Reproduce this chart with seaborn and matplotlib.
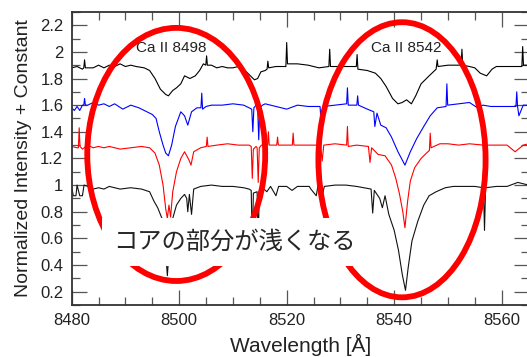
import matplotlib
matplotlib.use("Agg")
import matplotlib.pyplot as plt
from matplotlib.patches import Ellipse
from matplotlib.ticker import MultipleLocator
import seaborn as sns

# spectra: (wavelength [A], normalized flux + offset)
top_spec = [
    (8480.0, 1.88), (8481.0, 1.89), (8482.0, 1.87), (8482.25, 1.88), (8482.4, 1.94), (8482.55, 1.88),
    (8484.0, 1.88), (8485.0, 1.90), (8486.0, 1.88), (8487.0, 1.90), (8488.0, 1.89), (8489.0, 1.91),
    (8490.0, 1.89), (8491.0, 1.90), (8492.0, 1.89), (8493.5, 1.88), (8494.5, 1.86), (8495.5, 1.80),
    (8496.5, 1.72), (8497.5, 1.68), (8498.0, 1.67), (8498.8, 1.71), (8499.5, 1.73), (8500.3, 1.76),
    (8501.0, 1.82), (8502.0, 1.80), (8503.0, 1.82), (8503.8, 1.86), (8504.5, 1.91), (8504.95, 1.90),
    (8505.1, 1.97), (8505.25, 1.90), (8506.0, 1.90), (8507.0, 1.88), (8508.0, 1.89), (8509.0, 1.88),
    (8510.0, 1.88), (8511.0, 1.89), (8512.0, 1.87), (8513.0, 1.83), (8514.0, 1.79), (8514.6, 1.80),
    (8515.2, 1.85), (8516.0, 1.86), (8516.35, 1.87), (8516.5, 1.93), (8516.65, 1.88), (8518.0, 1.89),
    (8519.85, 1.89), (8520.0, 2.07), (8520.15, 1.91), (8522.0, 1.91), (8524.0, 1.90), (8526.0, 1.88),
    (8527.85, 1.89), (8528.0, 2.02), (8528.15, 1.89), (8530.0, 1.89), (8532.95, 1.89), (8533.1, 1.98),
    (8533.25, 1.87), (8535.0, 1.86), (8536.5, 1.84), (8537.5, 1.80), (8538.5, 1.74), (8539.7, 1.65),
    (8540.7, 1.61), (8541.5, 1.62), (8542.3, 1.64), (8543.2, 1.61), (8544.0, 1.67), (8545.0, 1.76),
    (8546.5, 1.82), (8547.8, 1.87), (8548.0, 1.94), (8548.15, 1.89), (8550.0, 1.90), (8552.45, 1.90),
    (8552.6, 2.02), (8552.75, 1.90), (8554.0, 1.89), (8555.0, 1.88), (8556.0, 1.84), (8557.2, 1.82),
    (8558.2, 1.87), (8559.0, 1.89), (8561.0, 1.89), (8563.75, 1.89), (8563.9, 2.04), (8564.05, 1.90),
    (8565.0, 1.90),
]

blue_spec = [
    (8480.0, 1.58), (8480.5, 1.56), (8481.0, 1.59), (8481.5, 1.56), (8482.0, 1.60), (8482.25, 1.60),
    (8482.4, 1.65), (8482.55, 1.60), (8483.0, 1.60), (8484.0, 1.62), (8485.0, 1.60), (8486.0, 1.61),
    (8487.0, 1.59), (8488.0, 1.61), (8489.5, 1.57), (8491.0, 1.60), (8492.5, 1.58), (8494.0, 1.55),
    (8495.0, 1.53), (8495.7, 1.50), (8496.3, 1.40), (8497.0, 1.30), (8497.5, 1.24), (8498.0, 1.22),
    (8498.6, 1.30), (8499.3, 1.44), (8500.3, 1.55), (8501.0, 1.52), (8501.6, 1.45), (8502.3, 1.55),
    (8503.3, 1.58), (8504.05, 1.58), (8504.2, 1.69), (8504.35, 1.57), (8505.0, 1.59), (8506.0, 1.60),
    (8508.0, 1.60), (8510.0, 1.61), (8512.0, 1.60), (8513.0, 1.58), (8513.5, 1.57), (8513.7, 1.40),
    (8513.9, 1.58), (8514.3, 1.60), (8514.6, 1.58), (8514.8, 1.34), (8515.0, 1.58), (8515.5, 1.60),
    (8516.0, 1.61), (8518.0, 1.59), (8520.0, 1.57), (8522.0, 1.60), (8524.0, 1.59), (8526.2, 1.59),
    (8526.5, 1.43), (8526.8, 1.59), (8529.0, 1.60), (8531.15, 1.61), (8531.3, 1.73), (8531.45, 1.60),
    (8533.05, 1.60), (8533.2, 1.67), (8533.35, 1.60), (8535.0, 1.57), (8536.2, 1.55), (8536.4, 1.44),
    (8536.8, 1.54), (8537.5, 1.45), (8538.5, 1.43), (8539.5, 1.36), (8540.7, 1.25), (8542.0, 1.15),
    (8543.0, 1.25), (8544.2, 1.35), (8545.5, 1.44), (8546.7, 1.52), (8548.0, 1.58), (8549.65, 1.59),
    (8549.8, 1.76), (8549.95, 1.60), (8552.0, 1.61), (8554.0, 1.62), (8555.5, 1.58), (8556.5, 1.60),
    (8558.0, 1.59), (8560.0, 1.59), (8562.65, 1.59), (8562.8, 1.70), (8562.95, 1.59), (8563.2, 1.52),
    (8564.0, 1.60), (8565.0, 1.60),
]

red_spec = [
    (8480.0, 1.29), (8481.0, 1.28), (8481.25, 1.28), (8481.4, 1.43), (8481.55, 1.29), (8482.0, 1.27),
    (8483.0, 1.30), (8484.0, 1.28), (8485.0, 1.29), (8486.0, 1.28), (8487.0, 1.29), (8489.0, 1.27),
    (8491.0, 1.28), (8493.0, 1.29), (8494.5, 1.28), (8495.5, 1.24), (8496.3, 1.15), (8497.0, 1.00),
    (8497.5, 0.82), (8497.8, 0.75), (8498.1, 0.85), (8498.4, 0.76), (8498.8, 0.95), (8499.5, 1.10),
    (8500.3, 1.20), (8501.0, 1.25), (8501.8, 1.19), (8502.2, 1.15), (8502.7, 1.25), (8504.0, 1.28),
    (8505.05, 1.29), (8505.2, 1.36), (8505.35, 1.29), (8507.0, 1.30), (8509.0, 1.31), (8511.0, 1.30),
    (8513.0, 1.30), (8513.4, 1.29), (8513.6, 1.05), (8513.8, 1.27), (8514.3, 1.29), (8514.5, 1.28),
    (8514.7, 1.02), (8514.9, 1.28), (8515.3, 1.30), (8516.0, 1.30), (8516.45, 1.30), (8516.6, 1.40),
    (8516.75, 1.30), (8518.15, 1.30), (8518.3, 1.36), (8518.45, 1.30), (8521.05, 1.30), (8521.2, 1.39),
    (8521.35, 1.30), (8523.0, 1.30), (8525.0, 1.30), (8526.3, 1.30), (8526.6, 1.18), (8526.9, 1.30),
    (8529.0, 1.31), (8531.15, 1.30), (8531.3, 1.44), (8531.45, 1.29), (8533.0, 1.30), (8535.2, 1.29),
    (8535.5, 1.17), (8535.8, 1.28), (8537.0, 1.23), (8538.3, 1.22), (8539.5, 1.15), (8540.3, 1.05),
    (8541.0, 0.93), (8541.6, 0.80), (8542.0, 0.68), (8542.5, 0.88), (8543.0, 1.03), (8543.8, 1.13),
    (8545.0, 1.20), (8546.0, 1.24), (8546.55, 1.26), (8546.7, 1.39), (8546.85, 1.28), (8548.5, 1.31),
    (8550.0, 1.31), (8552.0, 1.30), (8554.0, 1.31), (8556.6, 1.30), (8556.8, 1.00), (8557.0, 1.30),
    (8559.0, 1.30), (8561.0, 1.30), (8562.5, 1.25), (8564.0, 1.30), (8565.0, 1.31),
]

low_spec = [
    (8480.0, 0.99), (8480.3, 0.92), (8480.8, 0.92), (8481.0, 1.00), (8481.5, 0.92), (8482.0, 0.92),
    (8482.3, 1.00), (8483.0, 0.99), (8484.0, 0.97), (8485.0, 0.98), (8486.0, 0.97), (8487.0, 0.99),
    (8489.0, 0.97), (8491.0, 0.98), (8493.0, 0.97), (8494.5, 0.95), (8495.3, 0.88), (8496.0, 0.83),
    (8496.8, 0.75), (8497.3, 0.60), (8497.8, 0.32), (8498.2, 0.55), (8498.8, 0.75), (8499.5, 0.85),
    (8500.3, 0.90), (8501.0, 0.93), (8501.4, 0.90), (8501.6, 0.80), (8501.9, 0.93), (8502.3, 0.78),
    (8502.7, 0.97), (8504.0, 0.99), (8506.0, 1.00), (8508.0, 0.99), (8510.0, 0.99), (8512.0, 0.98),
    (8513.0, 0.97), (8513.4, 0.96), (8513.6, 0.55), (8513.8, 0.94), (8514.5, 0.95), (8514.7, 0.55),
    (8514.9, 0.96), (8515.5, 0.98), (8516.3, 0.95), (8517.0, 0.99), (8518.0, 0.92), (8518.5, 0.99),
    (8520.0, 0.99), (8521.0, 0.96), (8522.0, 0.99), (8524.2, 0.99), (8524.5, 0.97), (8525.5, 0.92),
    (8525.8, 0.99), (8526.5, 0.90), (8527.0, 0.99), (8529.0, 1.00), (8531.0, 1.00), (8533.0, 0.99),
    (8535.7, 0.97), (8536.0, 0.79), (8536.3, 0.96), (8537.3, 0.90), (8537.8, 0.83), (8538.3, 0.92),
    (8539.0, 0.78), (8540.0, 0.66), (8540.8, 0.51), (8541.5, 0.33), (8542.1, 0.21), (8542.6, 0.38),
    (8543.3, 0.58), (8544.4, 0.73), (8545.5, 0.85), (8546.5, 0.92), (8547.8, 0.95), (8549.5, 0.98),
    (8551.0, 0.99), (8553.0, 0.99), (8555.0, 0.99), (8556.6, 0.98), (8556.8, 0.66), (8557.0, 0.98),
    (8559.0, 0.99), (8561.0, 0.99), (8563.0, 1.02), (8565.0, 1.00),
]

line_names = ["Ca II 8498", "Ca II 8542"]
line_centers = [8498.5, 8542.2]
note = "コアの部分が浅くなる"

sns.set_style("ticks")
plt.rcParams["font.family"] = ["Liberation Sans", "DejaVu Sans"]

fig = plt.figure(figsize=(5.27, 3.57), dpi=100)
ax = fig.add_axes([0.136, 0.1457, 0.867, 0.821])

for spec, c in [(top_spec, "black"), (blue_spec, "#0000ff"),
                (red_spec, "#ff0000"), (low_spec, "#111111")]:
    w, f = zip(*spec)
    sns.lineplot(x=list(w), y=list(f), ax=ax, color=c, lw=0.8, sort=False, estimator=None)

for name, xc in zip(line_names, line_centers):
    ax.text(xc, 2.03, name, ha="center", va="center", fontsize=11, color="#222222")

ax.add_patch(Ellipse((8499.45, 1.23), 33.1, 1.90, fill=False, ec="#ff0000", lw=4.2, zorder=4))
ax.add_patch(Ellipse((8541.45, 1.19), 31.1, 2.065, fill=False, ec="#ff0000", lw=4.2, zorder=4))

ax.text(8510.2, 0.575, note, ha="center", va="center", fontsize=17.5,
        family=["Noto Sans CJK JP", "DejaVu Sans"], zorder=6,
        bbox=dict(boxstyle="square,pad=0.45", fc="white", ec="none"))

ax.set_xlim(8480, 8565)
ax.set_ylim(0.1, 2.3)
ax.xaxis.set_major_locator(MultipleLocator(20))
ax.xaxis.set_minor_locator(MultipleLocator(5))
ax.yaxis.set_minor_locator(MultipleLocator(0.1))
ax.set_yticks([0.2, 0.4, 0.6, 0.8, 1.0, 1.2, 1.4, 1.6, 1.8, 2.0, 2.2])
ax.set_yticklabels(["0.2", "0.4", "0.6", "0.8", "1", "1.2", "1.4", "1.6", "1.8", "2", "2.2"])
ax.tick_params(which="both", direction="in", top=True, right=True, colors="#555555",
               labelcolor="#222222", labelsize=12, pad=6)
ax.tick_params(which="major", length=11, width=0.9)
ax.tick_params(which="minor", length=6, width=0.9)
for s in ax.spines.values():
    s.set_color("#333333")
    s.set_linewidth(1.3)

ax.set_xlabel("Wavelength [Å]", fontsize=15, color="#222222", labelpad=4)
ax.set_ylabel("Normalized Intensity + Constant", fontsize=14, color="#222222", labelpad=6)

fig.savefig("out.png", dpi=100)
